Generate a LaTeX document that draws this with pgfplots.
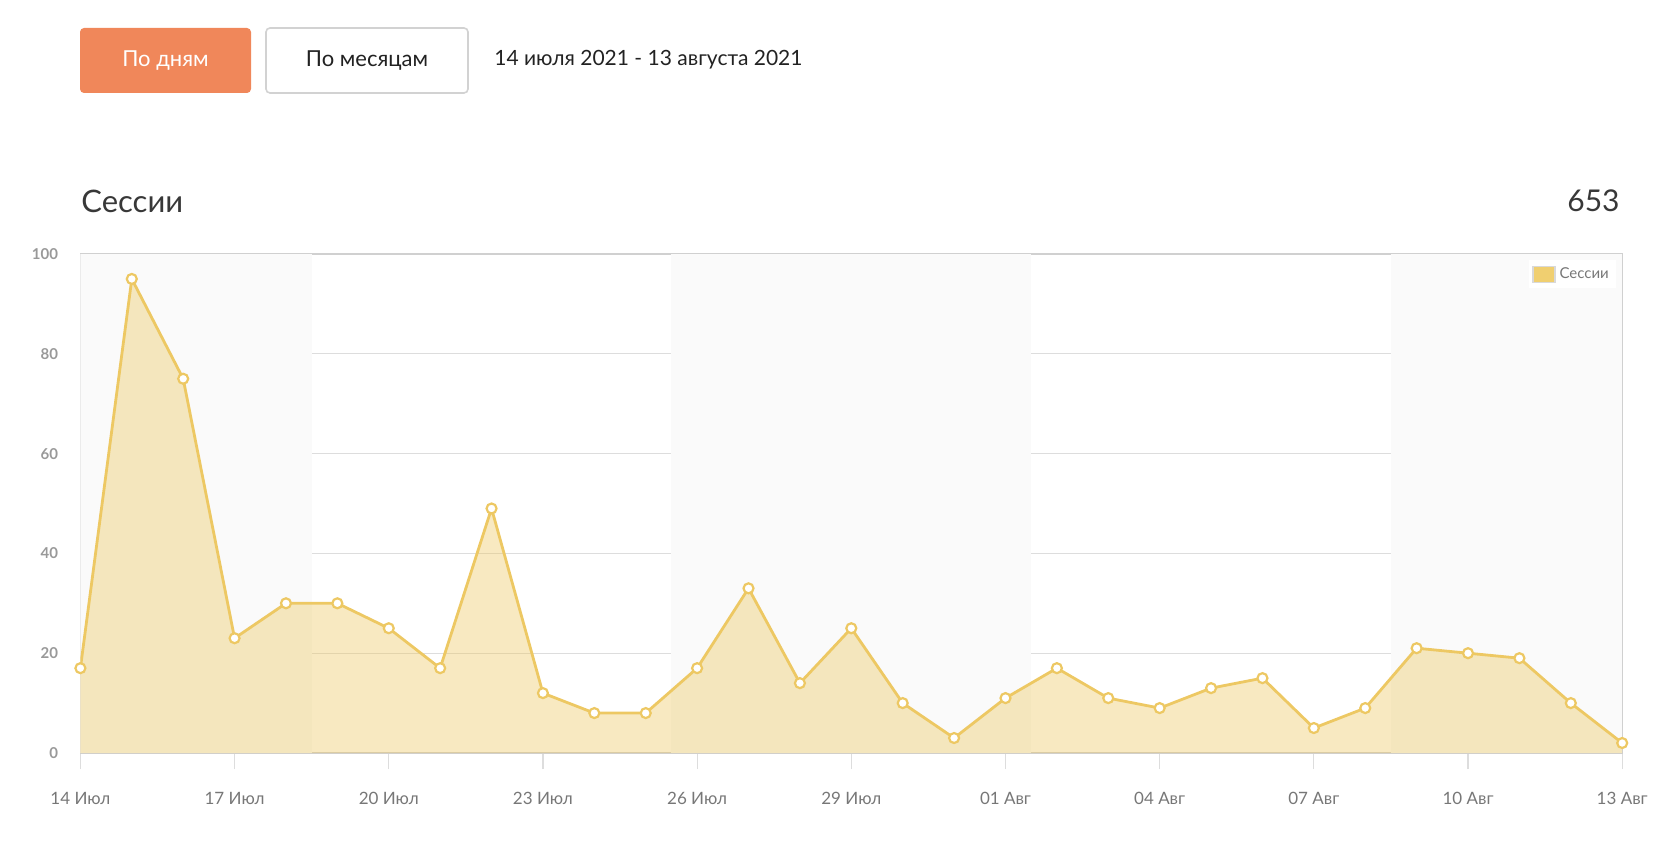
\documentclass[border=0pt]{standalone}
\usepackage{pgfplots}
\pgfplotsset{compat=1.18}
\usepackage{fontspec}
\setmainfont{Lato}
\definecolor{linecol}{HTML}{EDC863}
\definecolor{legcol}{HTML}{F0CF70}
\definecolor{btnorange}{HTML}{F0875A}
\definecolor{txtdark}{HTML}{222222}
\definecolor{ticklab}{HTML}{777777}
\definecolor{yticklab}{HTML}{999999}
\definecolor{gridcol}{HTML}{DDDDDD}
\definecolor{framecol}{HTML}{D0D0D0}
\definecolor{bandcol}{HTML}{FAFAFA}
\pgfplotstableread{
x y
0 17
1 95
2 75
3 23
4 30
5 30
6 25
7 17
8 49
9 12
10 8
11 8
12 17
13 33
14 14
15 25
16 10
17 3
18 11
19 17
20 11
21 9
22 13
23 15
24 5
25 9
26 21
27 20
28 19
29 10
30 2
}\sessions
\begin{document}
\begin{tikzpicture}
\path[use as bounding box] (0,0) rectangle (840pt,425.5pt);
% header
\fill[btnorange, rounded corners=2pt] (40pt,379pt) rectangle (125.5pt,411.5pt);
\node[text=white, font=\fontsize{11}{13}\selectfont] at (82.75pt,395.25pt) {По дням};
\draw[draw=gray!35, fill=white, line width=0.8pt, rounded corners=2pt] (133pt,379pt) rectangle (234pt,411.5pt);
\node[text=txtdark, font=\fontsize{11}{13}\selectfont] at (183.5pt,395.25pt) {По месяцам};
\node[text=txtdark, anchor=west, inner sep=0pt, font=\fontsize{10.5}{13}\selectfont] at (247pt,395.5pt) {14 июля 2021 - 13 августа 2021};
\node[text=txtdark!90, anchor=west, inner sep=0pt, font=\fontsize{15.5}{19}\selectfont] at (40.5pt,325pt) {Сессии};
\node[text=txtdark!90, anchor=east, inner sep=0pt, font=\fontsize{15}{18}\selectfont] at (810pt,325pt) {653};
\begin{axis}[
  at={(40.2pt,49pt)}, anchor=south west,
  scale only axis, width=770.9pt, height=249.5pt,
  xmin=0, xmax=30, ymin=0, ymax=100,
  xtick={0,3,...,30},
  xticklabels={14 Июл,17 Июл,20 Июл,23 Июл,26 Июл,29 Июл,01 Авг,04 Авг,07 Авг,10 Авг,13 Авг},
  ytick={0,20,...,100},
  xtick pos=bottom, ytick pos=left,
  ymajorgrids, major grid style={draw=gridcol, line width=0.6pt},
  axis line style={draw=framecol, line width=0.7pt},
  tick align=outside,
  major tick length=8pt,
  xtick style={draw=gridcol, line width=0.6pt},
  ytick style={draw=none},
  xticklabel style={font=\fontsize{8.5}{10}\selectfont, text=ticklab, inner sep=0pt, yshift=-11.5pt},
  yticklabel style={font=\fontsize{7.5}{9}\selectfont\bfseries, text=yticklab, inner sep=0pt, xshift=-3pt},
  /pgf/number format/assume math mode=true,
  legend style={at={(rel axis cs:1,1)}, anchor=north east, xshift=-3pt, yshift=-3pt,
    draw=none, fill=white, font=\fontsize{7.5}{9}\selectfont, text=ticklab, inner sep=1.5pt},
  legend cell align=left,
]
\addplot[fill=bandcol, draw=none, forget plot] coordinates {(0,0) (4.5,0) (4.5,100) (0,100)} -- cycle;
\addplot[fill=bandcol, draw=none, forget plot] coordinates {(11.5,0) (18.5,0) (18.5,100) (11.5,100)} -- cycle;
\addplot[fill=bandcol, draw=none, forget plot] coordinates {(25.5,0) (30,0) (30,100) (25.5,100)} -- cycle;
\addplot[fill=linecol, fill opacity=0.4, draw=none,
  legend image code/.code={\filldraw[draw=gray!30, fill=legcol, fill opacity=1, draw opacity=1, line width=0.8pt] (0pt,-4pt) rectangle (11pt,4pt);}]
  table[x=x,y=y] {\sessions} \closedcycle;
\addlegendentry{Сессии}
\addplot[draw=linecol, line width=1.4pt, mark=*, mark size=2.5pt,
  mark options={fill=white, draw=linecol, line width=1.1pt}, forget plot] table[x=x,y=y] {\sessions};
\end{axis}
\end{tikzpicture}
\end{document}
